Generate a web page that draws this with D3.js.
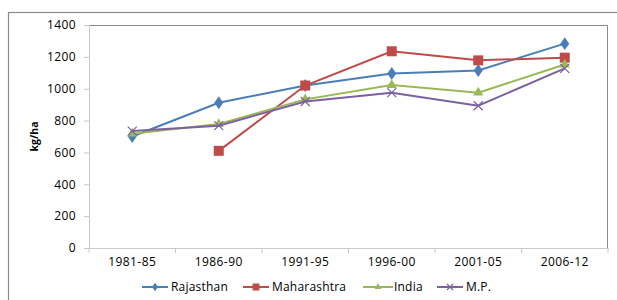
<!DOCTYPE html>
<html lang="en">
<head>
  <meta charset="UTF-8" />
  <title>Yield kg/ha by period</title>
  <script src="https://d3js.org/d3.v7.min.js"></script>
  <style>
    body { margin: 0; background: #ffffff; font-family: "Open Sans", sans-serif; }
    svg { display: block; }
    .tick text { font-size: 12px; fill: #000; font-family: "Open Sans", sans-serif; letter-spacing: 0.4px; }
    .legend text { font-size: 12px; fill: #000; letter-spacing: 0.2px; }
  </style>
</head>
<body>
<svg id="chart" width="617" height="300"></svg>
<script>
const periods = ["1981-85", "1986-90", "1991-95", "1996-00", "2001-05", "2006-12"];
const rajasthan = [700, 912, 1020, 1095, 1115, 1283];
const maharashtra = [null, 610, 1020, 1235, 1178, 1195];
const india = [718, 778, 933, 1023, 975, 1152];
const mp = [734, 768, 920, 975, 893, 1128];
const yTicks = [0, 200, 400, 600, 800, 1000, 1200, 1400];

const series = [
  { name: "Rajasthan", values: rajasthan, color: "#4A7EBB", marker: "diamond" },
  { name: "Maharashtra", values: maharashtra, color: "#BE4B48", marker: "square" },
  { name: "India", values: india, color: "#98B954", marker: "triangle" },
  { name: "M.P.", values: mp, color: "#7D60A0", marker: "x" }
];

const svg = d3.select("#chart");
const plotL = 89, plotR = 608, plotT = 25, plotB = 248;

// outer chart frame (cropped on right and bottom)
svg.append("rect")
  .attr("x", 8.5).attr("y", 12.5).attr("width", 620).attr("height", 300)
  .attr("fill", "none").attr("stroke", "#8a8a8a").attr("stroke-width", 1.2);

const x = d3.scaleBand().domain(periods).range([plotL, plotR]);
const y = d3.scaleLinear().domain([0, 1400]).range([plotB, plotT]);

// plot area border
svg.append("path")
  .attr("d", `M${plotL},${plotT + 0.5}H${plotR - 0.5}V${plotB}`)
  .attr("fill", "none").attr("stroke", "#8a8a8a").attr("stroke-width", 1);

const yAxis = svg.append("g")
  .attr("transform", `translate(${plotL},0)`)
  .call(d3.axisLeft(y).tickValues(yTicks).tickSize(5).tickPadding(8).tickFormat(d3.format("d")));
yAxis.select(".domain").attr("stroke", "#c8c8c8");
yAxis.selectAll(".tick line").attr("stroke", "#c8c8c8");

const xAxis = svg.append("g")
  .attr("transform", `translate(0,${plotB})`)
  .call(d3.axisBottom(x).tickSize(0).tickPadding(9));
xAxis.select(".domain").attr("stroke", "#c8c8c8");
// tick marks between categories
xAxis.selectAll(".sep")
  .data(d3.range(periods.length + 1))
  .join("line")
  .attr("class", "sep")
  .attr("x1", i => plotL + i * x.step()).attr("x2", i => plotL + i * x.step())
  .attr("y1", 0).attr("y2", 5)
  .attr("stroke", "#c8c8c8");

svg.append("text")
  .attr("transform", `translate(38,${(plotT + plotB) / 2}) rotate(-90)`)
  .attr("text-anchor", "middle")
  .attr("font-size", 10.5).attr("font-weight", "bold")
  .attr("font-family", "Open Sans, sans-serif")
  .text("kg/ha");

const cx = p => x(p) + x.bandwidth() / 2;

function drawMarker(g, type, color, size) {
  if (type === "diamond") {
    g.append("path").attr("d", d3.symbol(d3.symbolDiamond, size * size * 0.6)()).attr("fill", color)
      .attr("transform", "scale(1.2,1)");
  } else if (type === "square") {
    g.append("rect").attr("x", -size / 2).attr("y", -size / 2)
      .attr("width", size).attr("height", size).attr("fill", color);
  } else if (type === "triangle") {
    g.append("path").attr("d", d3.symbol(d3.symbolTriangle, size * size * 0.55)()).attr("fill", color);
  } else {
    const s = size / 2;
    g.append("path").attr("d", `M${-s},${-s}L${s},${s}M${-s},${s}L${s},${-s}`)
      .attr("stroke", color).attr("stroke-width", 1.2).attr("fill", "none");
  }
}

const line = d3.line()
  .defined(d => d.v !== null)
  .x(d => cx(d.p))
  .y(d => y(d.v));

series.forEach(s => {
  const pts = periods.map((p, i) => ({ p, v: s.values[i] }));
  svg.append("path")
    .datum(pts)
    .attr("d", line)
    .attr("fill", "none")
    .attr("stroke", s.color)
    .attr("stroke-width", 2);
  pts.filter(d => d.v !== null).forEach(d => {
    const g = svg.append("g").attr("transform", `translate(${cx(d.p)},${y(d.v)})`);
    drawMarker(g, s.marker, s.color, s.marker === "square" ? 10 : 9);
  });
});

// legend
const legendX = [142, 243, 363, 437];
const legend = svg.append("g").attr("class", "legend");
series.forEach((s, i) => {
  const g = legend.append("g").attr("transform", `translate(${legendX[i]},287)`);
  g.append("line").attr("x1", 0).attr("x2", i === 2 ? 30 : 26).attr("y1", 0).attr("y2", 0)
    .attr("stroke", s.color).attr("stroke-width", 2);
  const m = g.append("g").attr("transform", `translate(${i === 2 ? 15 : 13},0)`);
  drawMarker(m, s.marker, s.color, s.marker === "square" ? 7 : 6);
  g.append("text").attr("x", i === 2 ? 31 : 29).attr("dy", "0.35em").text(s.name);
});
</script>
</body>
</html>
